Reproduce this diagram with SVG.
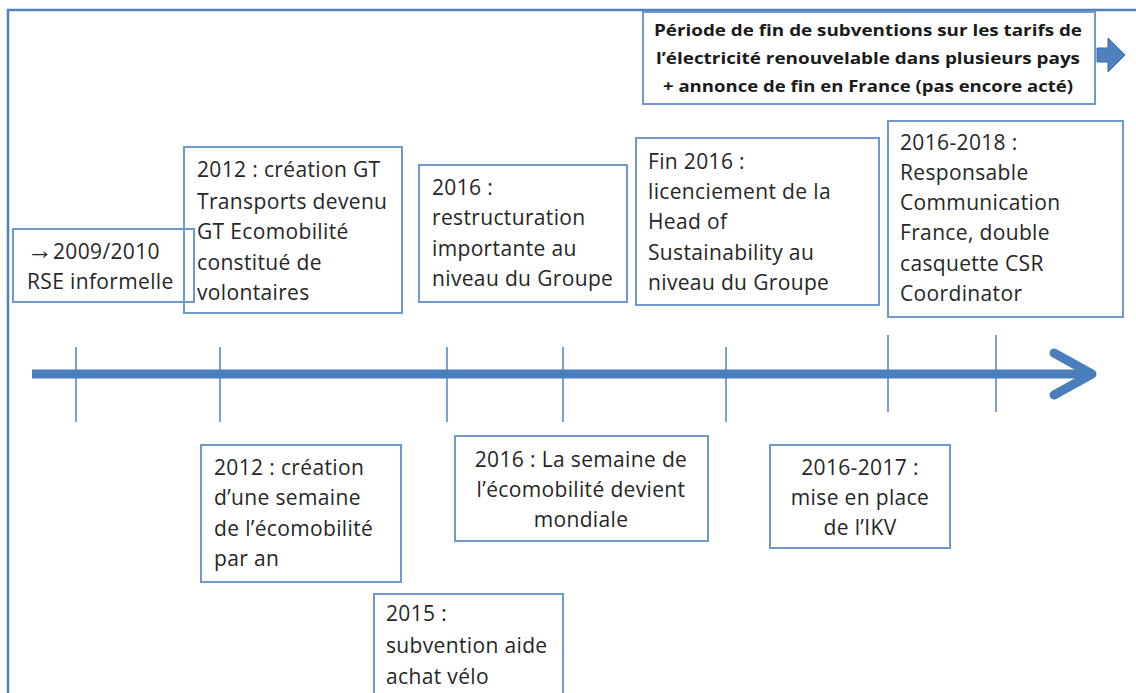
<svg xmlns="http://www.w3.org/2000/svg" width="1136" height="693" viewBox="0 0 1136 693">
<style>
.box{fill:#fff;stroke:#6f98cf;stroke-width:2}
.t{font-family:"Open Sans","Liberation Sans",sans-serif;font-size:21px;letter-spacing:0.35px;fill:#262626}
.c{text-anchor:middle}
.b{font-family:"Open Sans","Liberation Sans",sans-serif;font-size:15.5px;font-weight:bold;fill:#1a1a1a;text-anchor:middle}
.tick{stroke:#7ba0d4;stroke-width:2}
.arr{font-family:"Liberation Sans",sans-serif;font-size:26px;letter-spacing:0}
</style>
<rect x="0" y="0" width="1136" height="693" fill="#fff"/>
<g id="frame">
<path d="M8,693 V10 H1136" fill="none" stroke="#4f81bd" stroke-width="2.5"/>
</g>
<g id="connectors">
<line class="tick" x1="76" y1="347" x2="76" y2="422"/>
<line class="tick" x1="220" y1="347" x2="220" y2="422"/>
<line class="tick" x1="447" y1="347" x2="447" y2="422"/>
<line class="tick" x1="563" y1="347" x2="563" y2="422"/>
<line class="tick" x1="726" y1="347" x2="726" y2="422"/>
<line class="tick" x1="888" y1="335" x2="888" y2="412"/>
<line class="tick" x1="996" y1="335" x2="996" y2="412"/>
<line x1="32" y1="374" x2="1090" y2="374" stroke="#4a7ebb" stroke-width="9"/>
<polyline points="1054,353 1092,374 1054,395" fill="none" stroke="#4a7ebb" stroke-width="9" stroke-linecap="round" stroke-linejoin="round"/>
</g>
<g id="n-top">
<rect class="box" x="643" y="12" width="452" height="92"/>
<text class="b" x="868" y="36" textLength="428" lengthAdjust="spacingAndGlyphs">Période de fin de subventions sur les tarifs de</text>
<text class="b" x="868" y="64" textLength="424" lengthAdjust="spacingAndGlyphs">l’électricité renouvelable dans plusieurs pays</text>
<text class="b" x="868" y="92" textLength="410" lengthAdjust="spacingAndGlyphs">+ annonce de fin en France (pas encore acté)</text>
</g>
<g id="n-arrow">
<path d="M1097,48 H1108 V38 L1125,55 L1108,72 V62 H1097 Z" fill="#4f81bd" stroke="#3a6aa5" stroke-width="1"/>
</g>
<g id="n1">
<rect class="box" x="13" y="229" width="181" height="73"/>
<text class="t" x="27" y="259"><tspan class="arr">→</tspan>2009/2010</text>
<text class="t" x="27" y="289">RSE informelle</text>
</g>
<g id="n2">
<rect class="box" x="184" y="147" width="218" height="166" fill-opacity="0"/>
<text class="t" x="197" y="177">2012 : création GT</text>
<text class="t" x="197" y="209">Transports devenu</text>
<text class="t" x="197" y="239">GT Ecomobilité</text>
<text class="t" x="197" y="270">constitué de</text>
<text class="t" x="197" y="300">volontaires</text>
</g>
<g id="n3">
<rect class="box" x="419" y="165" width="208" height="137"/>
<text class="t" x="432" y="195">2016 :</text>
<text class="t" x="432" y="225">restructuration</text>
<text class="t" x="432" y="256">importante au</text>
<text class="t" x="432" y="286">niveau du Groupe</text>
</g>
<g id="n4">
<rect class="box" x="636" y="138" width="243" height="167"/>
<text class="t" x="648" y="169">Fin 2016 :</text>
<text class="t" x="648" y="199">licenciement de la</text>
<text class="t" x="648" y="229">Head of</text>
<text class="t" x="648" y="260">Sustainability au</text>
<text class="t" x="648" y="290">niveau du Groupe</text>
</g>
<g id="n5">
<rect class="box" x="888" y="121" width="235" height="196"/>
<text class="t" x="900" y="150">2016-2018 :</text>
<text class="t" x="900" y="180">Responsable</text>
<text class="t" x="900" y="210">Communication</text>
<text class="t" x="900" y="240">France, double</text>
<text class="t" x="900" y="271">casquette CSR</text>
<text class="t" x="900" y="301">Coordinator</text>
</g>
<g id="n6">
<rect class="box" x="201" y="445" width="200" height="137"/>
<text class="t" x="214" y="475">2012 : création</text>
<text class="t" x="214" y="505">d’une semaine</text>
<text class="t" x="214" y="536">de l’écomobilité</text>
<text class="t" x="214" y="566">par an</text>
</g>
<g id="n7">
<rect class="box" x="455" y="436" width="253" height="105"/>
<text class="t c" x="581" y="467">2016 : La semaine de</text>
<text class="t c" x="581" y="497">l’écomobilité devient</text>
<text class="t c" x="581" y="527">mondiale</text>
</g>
<g id="n8">
<rect class="box" x="770" y="445" width="180" height="103"/>
<text class="t c" x="860" y="475">2016-2017 :</text>
<text class="t c" x="860" y="505">mise en place</text>
<text class="t c" x="860" y="535">de l’IKV</text>
</g>
<g id="n9">
<rect class="box" x="374" y="594" width="189" height="110"/>
<text class="t" x="386" y="621">2015 :</text>
<text class="t" x="386" y="653">subvention aide</text>
<text class="t" x="386" y="684">achat vélo</text>
</g>
</svg>
